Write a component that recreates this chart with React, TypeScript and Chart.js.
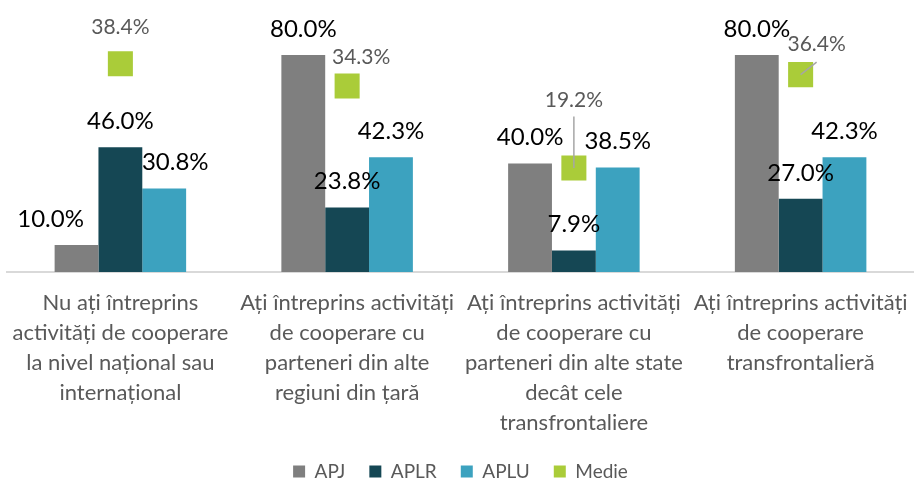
import React, { useEffect, useRef } from "react";
import { Chart, registerables } from "chart.js";

Chart.register(...registerables);

const categories: string[][] = [
  ["Nu ați întreprins", "activități de cooperare", "la nivel național sau", "internațional"],
  ["Ați întreprins activități", "de cooperare cu", "parteneri din alte", "regiuni din țară"],
  ["Ați întreprins activități", "de cooperare cu", "parteneri din alte state", "decât cele", "transfrontaliere"],
  ["Ați întreprins activități", "de cooperare", "transfrontalieră"],
];
const apj = [10.0, 80.0, 40.0, 80.0];
const aplr = [46.0, 23.8, 7.9, 27.0];
const aplu = [30.8, 42.3, 38.5, 42.3];
const medie = [38.4, 34.3, 19.2, 36.4];

const FONT = "Lato";

const labelPlugin = {
  id: "valueLabels",
  afterDatasetsDraw(chart: any) {
    const ctx = chart.ctx;
    ctx.save();
    ctx.textAlign = "center";
    ctx.textBaseline = "middle";
    const barDx: Record<string, number> = { "0-0": -26, "2-0": 11 };
    for (let d = 0; d < 3; d++) {
      const meta = chart.getDatasetMeta(d);
      const data = chart.data.datasets[d].data as number[];
      meta.data.forEach((el: any, i: number) => {
        const dx = barDx[`${d}-${i}`] || 0;
        ctx.font = `24px ${FONT}`;
        ctx.fillStyle = "#000000";
        ctx.fillText(data[i].toFixed(1) + "%", el.x + dx, el.y - 26);
      });
    }
    const offs = [
      [0, -36.5],
      [14, -28.5],
      [0, -67.5],
      [16, -30.5],
    ];
    const meta = chart.getDatasetMeta(3);
    const data = chart.data.datasets[3].data as number[];
    meta.data.forEach((el: any, i: number) => {
      const [dx, dy] = offs[i];
      const lx = el.x + dx;
      const ly = el.y + dy;
      ctx.font = `21px ${FONT}`;
      ctx.fillStyle = "#595959";
      ctx.fillText(data[i].toFixed(1) + "%", lx, ly);
      if (i === 2 || i === 3) {
        ctx.strokeStyle = "#a6a6a6";
        ctx.lineWidth = 1.5;
        ctx.beginPath();
        ctx.moveTo(lx, ly + (i === 2 ? 16 : 18));
        ctx.lineTo(el.x, el.y);
        ctx.stroke();
      }
    });
    ctx.restore();
  },
};

export default function App() {
  const ref = useRef<HTMLCanvasElement>(null);
  useEffect(() => {
    if (!ref.current) return;
    const chart = new Chart(ref.current, {
      type: "bar",
      data: {
        labels: categories as any,
        datasets: [
          {
            label: "APJ",
            data: apj,
            backgroundColor: "#7f7f7f",
            categoryPercentage: 0.58,
            barPercentage: 1,
            yAxisID: "y",
          } as any,
          {
            label: "APLR",
            data: aplr,
            backgroundColor: "#154754",
            categoryPercentage: 0.58,
            barPercentage: 1,
            yAxisID: "y",
          },
          {
            label: "APLU",
            data: aplu,
            backgroundColor: "#3ca2bf",
            categoryPercentage: 0.58,
            barPercentage: 1,
            yAxisID: "y",
          },
          {
            type: "line",
            label: "Medie",
            data: medie,
            showLine: false,
            pointStyle: "rect",
            pointRadius: 17.7,
            pointHoverRadius: 17.7,
            pointBorderWidth: 0,
            borderWidth: 0,
            backgroundColor: "#aacc39",
            borderColor: "#aacc39",
            pointBackgroundColor: "#aacc39",
            yAxisID: "y2",
          },
        ],
      },
      options: {
        responsive: false,
        animation: false,
        layout: { autoPadding: false, padding: { left: 7, right: 0, top: 28, bottom: -9 } },
        plugins: {
          tooltip: { enabled: false },
          legend: {
            position: "bottom",
            labels: {
              boxWidth: 12,
              boxHeight: 12,
              padding: 24,
              color: "#595959",
              font: { family: FONT, size: 19 },
            },
          },
        },
        scales: {
          x: {
            grid: { display: false, drawTicks: true, tickLength: 16 },
            border: { display: true, color: "#d9d9d9", width: 2 },
            afterFit: (scale: any) => {
              scale.paddingLeft = 0;
              scale.paddingRight = 0;
            },
            ticks: {
              color: "#595959",
              padding: 0,
              maxRotation: 0,
              autoSkip: false,
              font: { family: FONT, size: 22, lineHeight: 30 / 22 },
            },
          },
          y: { display: false, min: 0, max: 90 },
          y2: { display: false, min: 0, max: 45, position: "right" },
        },
      },
      plugins: [labelPlugin],
    });
    return () => chart.destroy();
  }, []);
  return (
    <canvas
      ref={ref}
      width={914}
      height={482}
      style={{ position: "absolute", left: 0, top: 0, width: 914, height: 482 }}
    />
  );
}
